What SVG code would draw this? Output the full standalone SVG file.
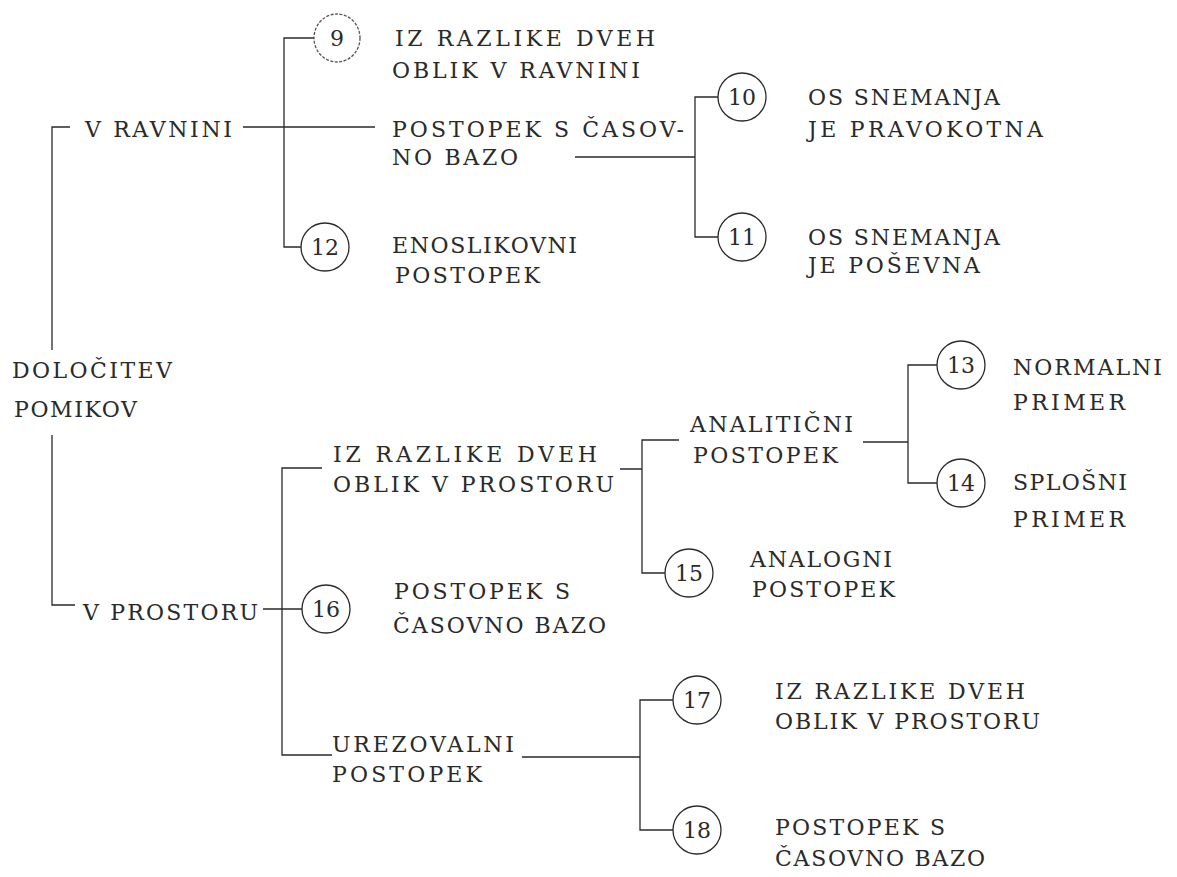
<svg xmlns="http://www.w3.org/2000/svg" width="1177" height="877" viewBox="0 0 1177 877">
<style>
text{font-family:"DejaVu Serif","Liberation Serif",serif;font-size:22px;fill:#2a2a2a}
.n{font-size:22px;text-anchor:middle}
.c{fill:none;stroke:#2a2a2a;stroke-width:1.3}
.l{fill:none;stroke:#2a2a2a;stroke-width:1.3}
</style>
<rect width="1177" height="877" fill="#ffffff"/>
<g id="connectors">
<path class="l" d="M70,127 H52 V350 M52,435 V605 H75"/>
<path class="l" d="M243,127 H375 M314,38 H284 V247 H301"/>
<path class="l" d="M575,157 H695 M718,97 H695 V237 H718"/>
<path class="l" d="M263,609 H302 M322,468 H282 V755 H332"/>
<path class="l" d="M620,469 H642 M679,440 H642 V573 H665"/>
<path class="l" d="M863,442 H908 M937,365 H908 V483 H937"/>
<path class="l" d="M522,757 H640 M673,700 H640 V830 H673"/>
</g>
<g id="root"><text x="12" y="378" textLength="160" lengthAdjust="spacing">DOLOČITEV</text><text x="14" y="417" textLength="123" lengthAdjust="spacing">POMIKOV</text></g>
<g id="v-ravnini"><text x="85" y="137" textLength="147" lengthAdjust="spacing">V RAVNINI</text></g>
<g id="v-prostoru"><text x="83" y="620" textLength="175" lengthAdjust="spacing">V PROSTORU</text></g>
<g id="n9"><ellipse class="c" cx="337" cy="38" rx="23" ry="24" stroke-dasharray="3 1.5" style="stroke:#555"/><text class="n" x="337" y="46">9</text>
<text x="395" y="46" textLength="260" lengthAdjust="spacing">IZ RAZLIKE DVEH</text><text x="392" y="78" textLength="248" lengthAdjust="spacing">OBLIK V RAVNINI</text></g>
<g id="casovno-ravnina"><text x="392" y="137" textLength="292" lengthAdjust="spacing">POSTOPEK S ČASOV-</text><text x="392" y="165" textLength="126" lengthAdjust="spacing">NO BAZO</text></g>
<g id="n10"><ellipse class="c" cx="742" cy="97" rx="24" ry="24"/><text class="n" x="742" y="105">10</text>
<text x="808" y="105" textLength="192" lengthAdjust="spacing">OS SNEMANJA</text><text x="808" y="137" textLength="235" lengthAdjust="spacing">JE PRAVOKOTNA</text></g>
<g id="n11"><ellipse class="c" cx="742" cy="237" rx="24" ry="24"/><text class="n" x="742" y="245">11</text>
<text x="808" y="245" textLength="192" lengthAdjust="spacing">OS SNEMANJA</text><text x="808" y="273" textLength="172" lengthAdjust="spacing">JE POŠEVNA</text></g>
<g id="n12"><ellipse class="c" cx="325" cy="247" rx="24" ry="24"/><text class="n" x="325" y="255">12</text>
<text x="392" y="253" textLength="185" lengthAdjust="spacing">ENOSLIKOVNI</text><text x="395" y="283" textLength="145" lengthAdjust="spacing">POSTOPEK</text></g>
<g id="razlika-prostor"><text x="333" y="462" textLength="264" lengthAdjust="spacing">IZ RAZLIKE DVEH</text><text x="333" y="492" textLength="281" lengthAdjust="spacing">OBLIK V PROSTORU</text></g>
<g id="analiticni"><text x="690" y="432" textLength="163" lengthAdjust="spacing">ANALITIČNI</text><text x="693" y="463" textLength="145" lengthAdjust="spacing">POSTOPEK</text></g>
<g id="n13"><ellipse class="c" cx="961" cy="365" rx="24" ry="24"/><text class="n" x="961" y="373">13</text>
<text x="1013" y="375" textLength="149" lengthAdjust="spacing">NORMALNI</text><text x="1013" y="410" textLength="112" lengthAdjust="spacing">PRIMER</text></g>
<g id="n14"><ellipse class="c" cx="961" cy="483" rx="24" ry="24"/><text class="n" x="961" y="491">14</text>
<text x="1013" y="490" textLength="114" lengthAdjust="spacing">SPLOŠNI</text><text x="1013" y="527" textLength="112" lengthAdjust="spacing">PRIMER</text></g>
<g id="n15"><ellipse class="c" cx="689" cy="573" rx="24" ry="24"/><text class="n" x="689" y="581">15</text>
<text x="750" y="567" textLength="142" lengthAdjust="spacing">ANALOGNI</text><text x="752" y="597" textLength="143" lengthAdjust="spacing">POSTOPEK</text></g>
<g id="n16"><ellipse class="c" cx="326" cy="609" rx="24" ry="24"/><text class="n" x="326" y="617">16</text>
<text x="394" y="599" textLength="176" lengthAdjust="spacing">POSTOPEK S</text><text x="393" y="633" textLength="213" lengthAdjust="spacing">ČASOVNO BAZO</text></g>
<g id="urezovalni"><text x="332" y="752" textLength="182" lengthAdjust="spacing">UREZOVALNI</text><text x="332" y="782" textLength="150" lengthAdjust="spacing">POSTOPEK</text></g>
<g id="n17"><ellipse class="c" cx="697" cy="700" rx="24" ry="24"/><text class="n" x="697" y="708">17</text>
<text x="775" y="699" textLength="250" lengthAdjust="spacing">IZ RAZLIKE DVEH</text><text x="775" y="729" textLength="265" lengthAdjust="spacing">OBLIK V PROSTORU</text></g>
<g id="n18"><ellipse class="c" cx="697" cy="830" rx="24" ry="24"/><text class="n" x="697" y="838">18</text>
<text x="775" y="835" textLength="170" lengthAdjust="spacing">POSTOPEK S</text><text x="775" y="866" textLength="210" lengthAdjust="spacing">ČASOVNO BAZO</text></g>
</svg>
